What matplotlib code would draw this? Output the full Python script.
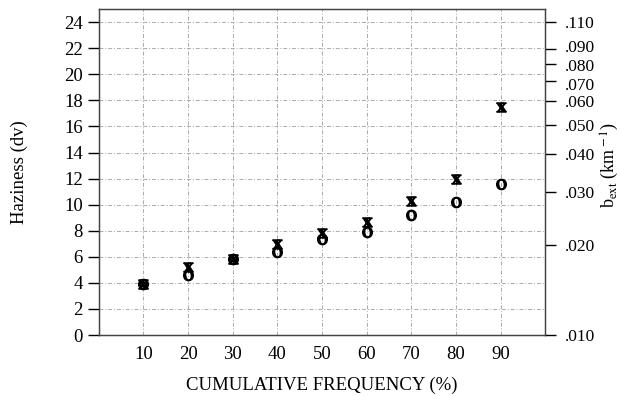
import matplotlib
matplotlib.use("Agg")
import matplotlib.pyplot as plt
import matplotlib.transforms as mtransforms
import numpy as np

plt.rcParams["font.family"] = ["Liberation Serif", "DejaVu Serif"]
plt.rcParams["mathtext.fontset"] = "stix"

# Data
freq = [10, 20, 30, 40, 50, 60, 70, 80, 90]
haz_x = [3.9, 5.2, 5.8, 7.0, 7.8, 8.7, 10.3, 12.0, 17.5]
haz_o = [3.9, 4.6, 5.8, 6.4, 7.4, 7.9, 9.2, 10.2, 11.6]

left_ticks = list(range(0, 25, 2))
bext_ticks = [0.010, 0.020, 0.030, 0.040, 0.050, 0.060, 0.070, 0.080, 0.090, 0.110]
bext_labels = [".010", ".020", ".030", ".040", ".050", ".060", ".070", ".080", ".090", ".110"]

FS = 13.5

fig = plt.figure(figsize=(6.21, 3.96), dpi=100)
ax = fig.add_axes([0.159, 0.154, 0.719, 0.823])

grid_kw = dict(color="#aaaaaa", linestyle=(0, (4, 2, 1, 2)), linewidth=0.7)
ax.grid(True, **grid_kw)
ax.set_axisbelow(True)

ax.scatter(freq, haz_x, marker=r"$\mathbf{x}$", s=45, color="black", zorder=3)
ax.scatter(freq, haz_o, marker=r"$\mathrm{o}$", s=55, color="black", zorder=3)

ax.set_xlim(0, 100)
ax.set_ylim(0, 25)
ax.set_xticks(freq)
ax.set_yticks(left_ticks)
ax.tick_params(axis="x", length=0, labelsize=FS, pad=8)
ax.tick_params(axis="y", length=8, width=1, labelsize=FS, direction="out")
ax.set_xlabel("CUMULATIVE FREQUENCY (%)", fontsize=FS, labelpad=10)
ax.set_ylabel("Haziness (dv)", fontsize=FS, labelpad=26)

for sp in ax.spines.values():
    sp.set_color("#444444")
    sp.set_linewidth(1.0)

# right axis: deciview <-> extinction, dv = 10 ln(b / 0.01)
ax2 = ax.twinx()
ax2.set_ylim(ax.get_ylim())
ax2.set_yticks([10 * np.log(b / 0.01) for b in bext_ticks])
ax2.set_yticklabels(bext_labels)
ax2.tick_params(axis="y", length=8, width=1, labelsize=12.5, direction="out", pad=6)
ax2.set_ylabel(r"b$_{\rm ext}$ (km$^{\rm -1}$)", fontsize=13, va="center")
ax2.yaxis.set_label_coords(1.145, 0.52)
for sp in ax2.spines.values():
    sp.set_color("#444444")

# the .090/.080/.070 labels sit very close; spread them a touch
nudges = {".090": 2, ".080": -1, ".070": -2}
for lab in ax2.get_yticklabels():
    dy = nudges.get(lab.get_text(), 0)
    if dy:
        lab.set_transform(lab.get_transform()
                          + mtransforms.ScaledTranslation(0, dy / 72, fig.dpi_scale_trans))

fig.savefig("out.png", dpi=100)
